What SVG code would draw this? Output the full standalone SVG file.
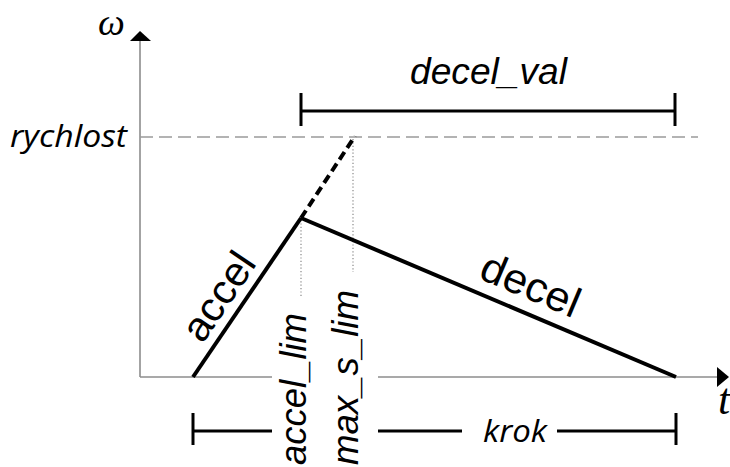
<svg xmlns="http://www.w3.org/2000/svg" width="730" height="467" viewBox="0 0 730 467">
<style>
.axis{stroke:#8c8c8c;stroke-width:1.6;fill:none}
.guide{stroke:#9a9a9a;stroke-width:1.6;stroke-dasharray:13 6;fill:none}
.dot{stroke:#888;stroke-width:1.2;stroke-dasharray:1.2 2.2;fill:none}
.thick{stroke:#000;stroke-width:4;fill:none}
.bar{stroke:#000;stroke-width:3;fill:none}
.lab{font-family:"Liberation Sans",Arial,sans-serif;fill:#000}
.hum{font-family:"Open Sans","Noto Sans",sans-serif;font-style:italic;fill:#000}
.ser{font-family:"Liberation Serif","Times New Roman",serif;font-style:italic;fill:#000}
</style>
<rect width="730" height="467" fill="#fff"/>
<g id="axes">
<line class="axis" x1="140" y1="377" x2="140" y2="40"/>
<polygon points="140,31 130,41 151,41" fill="#000"/>
<line class="axis" x1="140" y1="377" x2="718" y2="377"/>
<polygon points="729,377 717,367 717,387" fill="#000"/>
<text class="ser" x="98" y="35" font-size="38">ω</text>
<text class="ser" x="718" y="414" font-size="44">t</text>
</g>
<g id="connectors">
<line class="guide" x1="140" y1="137" x2="698" y2="137"/>
<line class="dot" x1="301" y1="220" x2="301" y2="296"/>
<line class="dot" x1="353" y1="139" x2="353" y2="272"/>
<line class="thick" x1="193" y1="377" x2="301" y2="218"/>
<line class="thick" x1="301" y1="218" x2="355" y2="136" stroke-dasharray="9 5"/>
<line class="thick" x1="301" y1="218" x2="676" y2="377"/>
</g>
<g id="rychlost">
<text class="hum" x="10" y="147" font-size="31" textLength="117" lengthAdjust="spacingAndGlyphs">rychlost</text>
</g>
<g id="decel_val">
<line class="bar" x1="301" y1="111" x2="675" y2="111"/>
<line class="bar" x1="301" y1="93" x2="301" y2="126"/>
<line class="bar" x1="675" y1="93" x2="675" y2="126"/>
<text class="lab" x="410" y="84" font-size="36" font-style="italic" textLength="157" lengthAdjust="spacingAndGlyphs">decel_val</text>
</g>
<g id="accel">
<text class="lab" font-size="41" text-anchor="middle" transform="translate(230,304) rotate(-55.8)" textLength="98" lengthAdjust="spacingAndGlyphs">accel</text>
</g>
<g id="decel">
<text class="lab" font-size="42" text-anchor="middle" transform="translate(525,298) rotate(23)" textLength="104" lengthAdjust="spacingAndGlyphs">decel</text>
</g>
<g id="krok">
<line class="bar" x1="193" y1="431" x2="272" y2="431"/>
<line class="bar" x1="193" y1="413" x2="193" y2="445"/>
<line class="bar" x1="378" y1="431" x2="462" y2="431"/>
<line class="bar" x1="557" y1="431" x2="676" y2="431"/>
<line class="bar" x1="676" y1="413" x2="676" y2="445"/>
<text class="hum" x="483" y="442" font-size="31" textLength="64" lengthAdjust="spacingAndGlyphs">krok</text>
</g>
<g id="limits">
<rect x="272" y="300" width="106" height="167" fill="#fff"/>
<text class="lab" font-size="36" font-style="italic" transform="translate(306,465) rotate(-90)" textLength="152" lengthAdjust="spacingAndGlyphs">accel_lim</text>
<text class="lab" font-size="36" font-style="italic" transform="translate(358,465) rotate(-90)" textLength="175" lengthAdjust="spacingAndGlyphs">max_s_lim</text>
</g>
</svg>
